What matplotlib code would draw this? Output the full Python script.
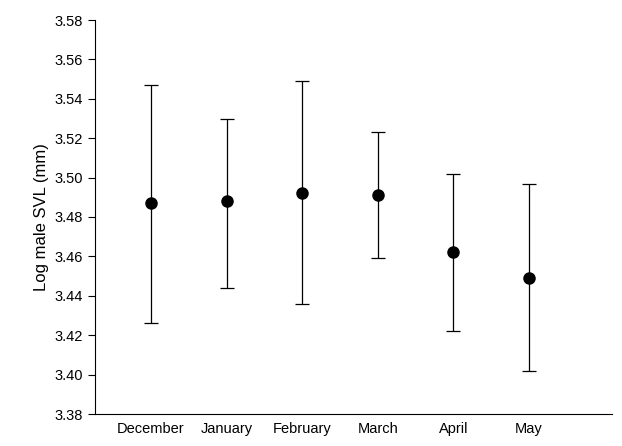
import matplotlib.pyplot as plt
import numpy as np

plt.rcParams['font.family'] = ['Liberation Sans', 'DejaVu Sans']

months = ['December', 'January', 'February', 'March', 'April', 'May']
means = [3.487, 3.488, 3.492, 3.491, 3.462, 3.449]
upper = [3.547, 3.530, 3.549, 3.523, 3.502, 3.497]
lower = [3.426, 3.444, 3.436, 3.459, 3.422, 3.402]

means = np.array(means)
yerr = [means - np.array(lower), np.array(upper) - means]
x = np.arange(len(months))

fig = plt.figure(figsize=(6.22, 4.46), dpi=100)
ax = fig.add_axes([95 / 622, 1 - 414 / 446, 517 / 622, 394 / 446])

ax.errorbar(x, means, yerr=yerr, fmt='o', color='black', ecolor='black',
            markersize=8, elinewidth=0.9, capsize=5, capthick=0.9)

ax.set_xlim(-0.74, 6.1)
ax.set_ylim(3.38, 3.58)
ax.set_yticks(np.arange(3.38, 3.5801, 0.02))
ax.set_yticklabels([f'{v:.2f}' for v in np.arange(3.38, 3.5801, 0.02)])
ax.set_xticks(x)
ax.set_xticklabels(months)
ax.tick_params(axis='x', length=0, labelsize=10.5, pad=6)
ax.tick_params(axis='y', direction='out', length=5, labelsize=10.5)
ax.set_ylabel('Log male SVL (mm)', fontsize=12)
ax.spines['top'].set_visible(False)
ax.spines['right'].set_visible(False)

fig.savefig('out.png', dpi=100)
